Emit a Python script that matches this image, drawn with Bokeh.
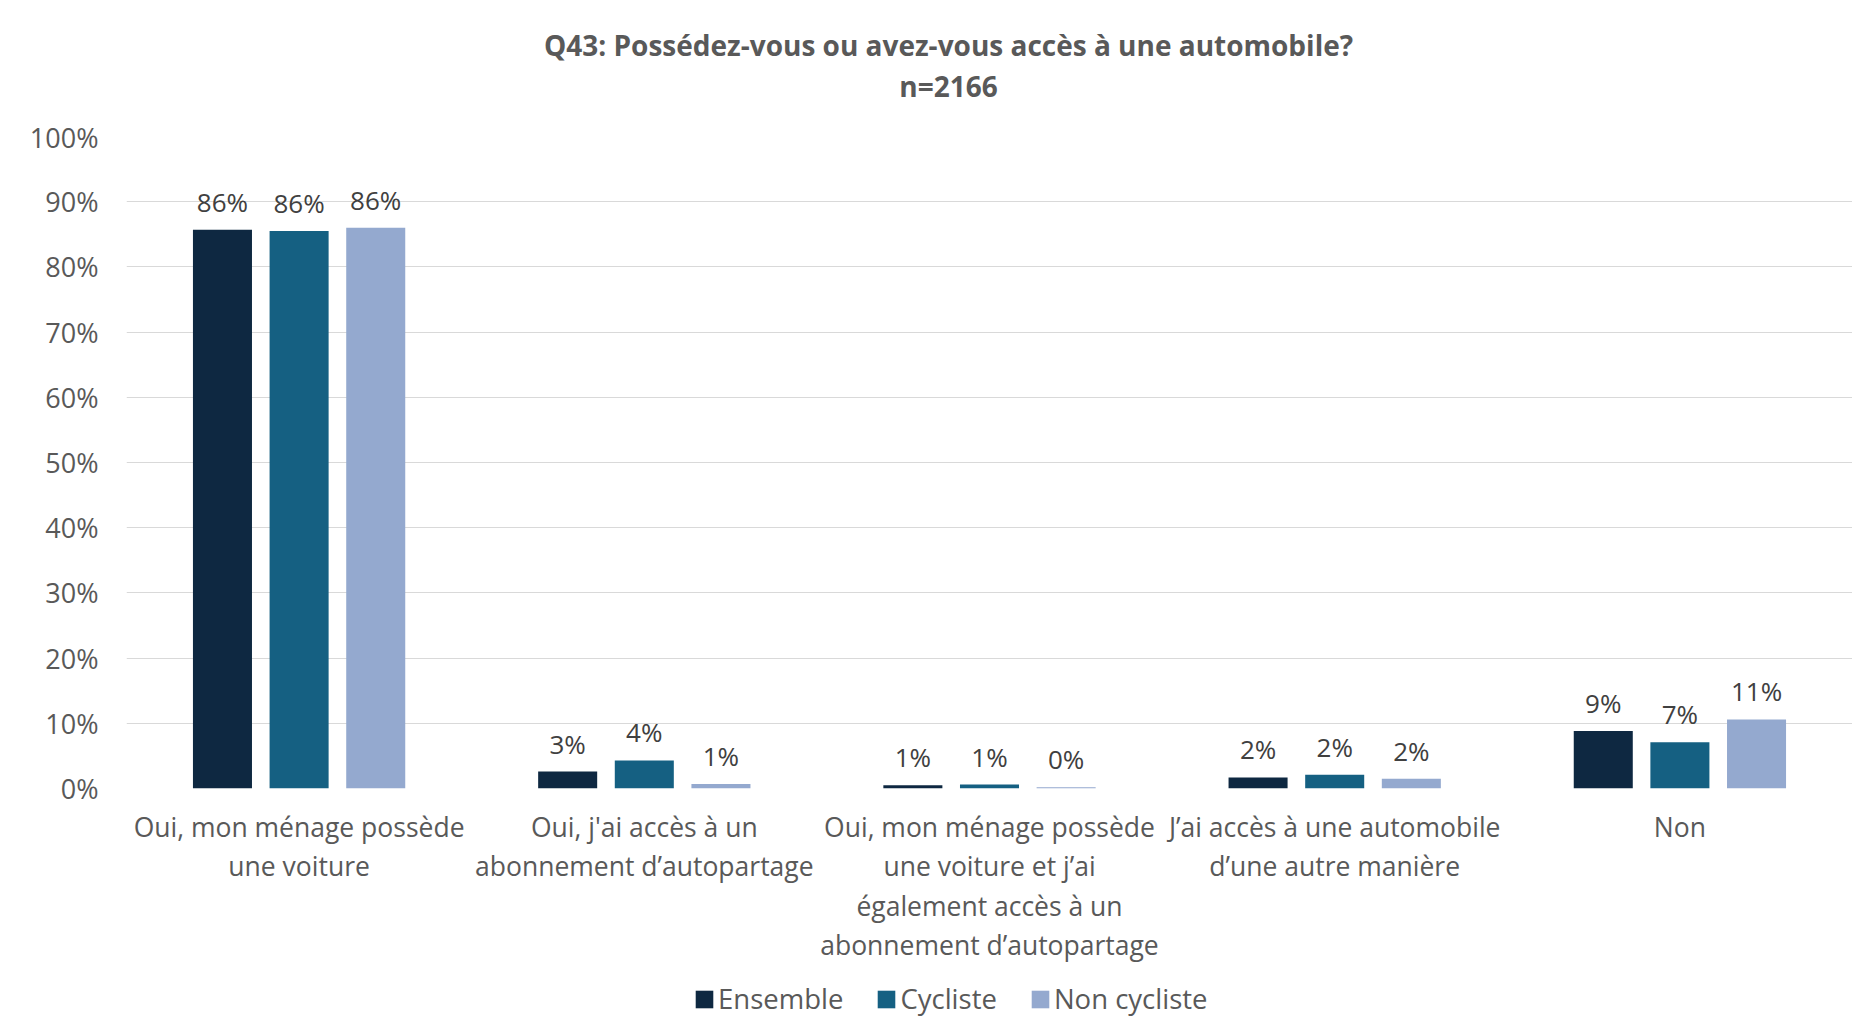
from bokeh.plotting import figure
from bokeh.models import (ColumnDataSource, Range1d, FixedTicker, Legend,
                          LegendItem, LabelSet, CustomJSTickFormatter)
from bokeh.core.properties import value
from bokeh.transform import dodge
from bokeh.layouts import column
from bokeh.embed import file_html
from bokeh.resources import INLINE

# ---- data ----
categories = [
    "Oui, mon ménage possède\nune voiture",
    "Oui, j'ai accès à un\nabonnement d’autopartage",
    "Oui, mon ménage possède\nune voiture et j’ai\négalement accès à un\nabonnement d’autopartage",
    "J’ai accès à une automobile\nd’une autre manière",
    "Non",
]
series_names = ["Ensemble", "Cycliste", "Non cycliste"]
ensemble = [85.7, 2.6, 0.5, 1.7, 8.8]
cycliste = [85.5, 4.3, 0.6, 2.1, 7.1]
non_cycliste = [86.0, 0.7, 0.2, 1.5, 10.6]
y_ticks = [0, 10, 20, 30, 40, 50, 60, 70, 80, 90, 100]
title_lines = ["Q43: Possédez-vous ou avez-vous accès à une automobile?", "n=2166"]

colors = ["#0E2841", "#156082", "#94A9CF"]
FONT = "Open Sans"
W = 1852
LEFT = 126
HEAD_H, MAIN_H, FOOT_H = 118, 849, 50


def pct(v):
    return f"{int(v + 0.5)}%"


def bare(fig):
    fig.outline_line_color = None
    fig.xgrid.grid_line_color = None
    fig.ygrid.grid_line_color = None
    fig.background_fill_color = "white"
    fig.border_fill_color = "white"


# ---- header (title) ----
head = figure(width=W, height=HEAD_H, x_range=Range1d(LEFT, W), y_range=Range1d(0, HEAD_H),
              output_backend="svg", toolbar_location=None,
              x_axis_location=None, y_axis_location=None,
              min_border=0, min_border_left=LEFT, min_border_right=0,
              min_border_top=0, min_border_bottom=0)
bare(head)
head_src = ColumnDataSource(data=dict(x=[948, 948], y=[HEAD_H - 44, HEAD_H - 85], t=title_lines))
head.text(x="x", y="y", text="t", source=head_src, text_align="center",
          text_baseline="middle", text_font=value(FONT), text_font_size="28px",
          text_font_style="bold", text_color="#595959")

# ---- main chart ----
source = ColumnDataSource(data=dict(
    cat=categories,
    ens=ensemble, cyc=cycliste, non=non_cycliste,
    ens_l=[pct(v) for v in ensemble],
    cyc_l=[pct(v) for v in cycliste],
    non_l=[pct(v) for v in non_cycliste],
))

p = figure(x_range=categories, y_range=Range1d(0, 100),
           width=W, height=MAIN_H, output_backend="svg", toolbar_location=None,
           min_border_left=LEFT, min_border_right=0, min_border_top=18,
           min_border_bottom=179, title=None)
p.outline_line_color = None
p.background_fill_color = "white"
p.border_fill_color = "white"

offset = 0.222
bw = 0.171
fields = ["ens", "cyc", "non"]
offsets = [-offset, 0.0, offset]
for f, off, col in zip(fields, offsets, colors):
    p.vbar(x=dodge("cat", off, range=p.x_range), top=f, width=bw,
           source=source, fill_color=col, line_color=None)
    lbl = LabelSet(x=dodge("cat", off, range=p.x_range), y=f, text=f + "_l",
                   source=source, text_align="center", text_baseline="alphabetic",
                   y_offset=18, text_font=value(FONT), text_font_size="26px",
                   text_color="#404040")
    p.add_layout(lbl)

p.yaxis.ticker = FixedTicker(ticks=y_ticks)
p.yaxis.formatter = CustomJSTickFormatter(code="return tick + '%';")
p.yaxis.axis_line_color = None
p.yaxis.major_tick_line_color = None
p.yaxis.minor_tick_line_color = None
p.yaxis.major_tick_out = 0
p.yaxis.major_tick_in = 0
p.yaxis.major_label_standoff = 28
p.yaxis.major_label_text_font = FONT
p.yaxis.major_label_text_font_size = "27px"
p.yaxis.major_label_text_color = "#595959"

p.xaxis.axis_line_color = None
p.xaxis.major_tick_line_color = None
p.xaxis.minor_tick_line_color = None
p.xaxis.major_tick_out = 0
p.xaxis.major_tick_in = 0
p.xaxis.major_label_standoff = 20
p.xaxis.major_label_text_font = FONT
p.xaxis.major_label_text_font_size = "26.5px"
p.xaxis.major_label_text_color = "#595959"
p.xaxis.major_label_text_line_height = 1.1
p.xaxis.major_label_orientation = "horizontal"

p.xgrid.grid_line_color = None
p.ygrid.ticker = FixedTicker(ticks=y_ticks)
p.ygrid.grid_line_color = "#D9D9D9"
p.ygrid.grid_line_width = 1

# ---- footer (legend) ----
foot = figure(width=W, height=FOOT_H, x_range=Range1d(0, 1), y_range=Range1d(0, 1),
              output_backend="svg", toolbar_location=None,
              x_axis_location=None, y_axis_location=None,
              min_border=0, min_border_left=LEFT, min_border_right=0,
              min_border_top=0, min_border_bottom=0)
bare(foot)
items = []
for col, name in zip(colors, series_names):
    # legend swatch renderers (their single bar lies outside the visible range)
    r = foot.vbar(x=[5], top=[5], bottom=[4], width=0.1, fill_color=col, line_color=None)
    items.append(LegendItem(label=name, renderers=[r]))
legend = Legend(items=items, orientation="horizontal", location=(693 - LEFT, 0),
                glyph_width=22, glyph_height=22, label_standoff=3, spacing=32,
                padding=0, margin=0, border_line_color=None,
                background_fill_alpha=0, label_text_font=FONT,
                label_text_font_size="27.5px", label_text_color="#595959")
foot.add_layout(legend, "center")

layout = column(head, p, foot, spacing=0)
open("out.html", "w").write(file_html(layout, INLINE))
